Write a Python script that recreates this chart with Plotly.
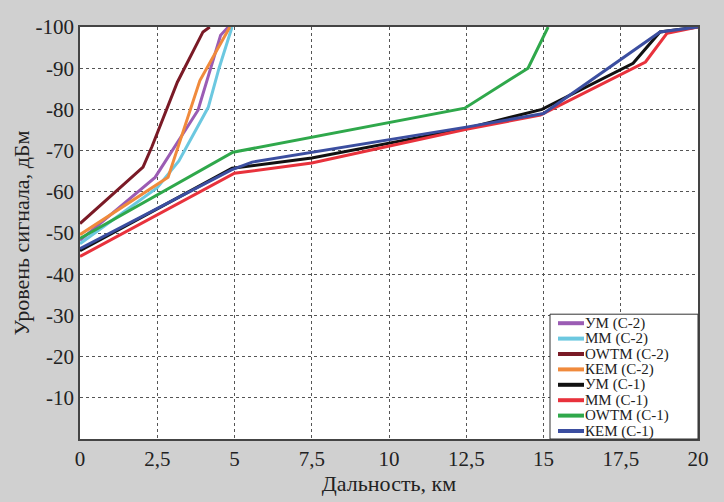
import plotly.graph_objects as go

# Series: distance (km) and signal level (dBm)
um_c2_x = [0, 2.43, 3.82, 4.55, 4.8]
um_c2_y = [-48.2, -63.5, -79.8, -98, -100]

mm_c2_x = [0, 2.5, 3.2, 4.15, 4.5, 4.92]
mm_c2_y = [-47.4, -61, -67.5, -80.5, -90, -100]

owtm_c2_x = [0, 2.04, 2.33, 3.15, 3.98, 4.2]
owtm_c2_y = [-52.3, -66, -71, -86.6, -98.8, -100]

kem_c2_x = [0, 2.85, 3.88, 4.85]
kem_c2_y = [-49.6, -63.5, -87, -100]

um_c1_x = [0, 4.92, 7.5, 12.5, 14.95, 17.9, 18.77, 20]
um_c1_y = [-45.7, -65.7, -68.2, -75.4, -80, -91.2, -98.8, -100]

mm_c1_x = [0, 5.0, 7.5, 12.5, 14.9, 18.3, 19.0, 20]
mm_c1_y = [-44.3, -64.5, -67, -75.2, -78.6, -91.5, -98.5, -100]

owtm_c1_x = [0, 4.95, 12.45, 14.5, 15.15]
owtm_c1_y = [-48.7, -69.6, -80.3, -90, -100]

kem_c1_x = [0, 4.9, 5.57, 12.5, 15.0, 18.77, 20]
kem_c1_y = [-46.2, -65.3, -67.2, -75.7, -79, -98.8, -100]

names = ["УМ (С-2)", "ММ (С-2)", "OWTM (С-2)", "КЕМ (С-2)",
         "УМ (С-1)", "ММ (С-1)", "OWTM (С-1)", "КЕМ (С-1)"]
xs = [um_c2_x, mm_c2_x, owtm_c2_x, kem_c2_x, um_c1_x, mm_c1_x, owtm_c1_x, kem_c1_x]
ys = [um_c2_y, mm_c2_y, owtm_c2_y, kem_c2_y, um_c1_y, mm_c1_y, owtm_c1_y, kem_c1_y]
colors = ["#9b5cb4", "#6cc8e0", "#7a1a26", "#f08a3c",
          "#111111", "#e8323c", "#2fa84b", "#3b4ea0"]

x_tickvals = [0, 2.5, 5, 7.5, 10, 12.5, 15, 17.5, 20]
x_ticktext = ["0", "2,5", "5", "7,5", "10", "12,5", "15", "17,5", "20"]
y_tickvals = [-10, -20, -30, -40, -50, -60, -70, -80, -90, -100]
y_ticktext = [str(v) for v in y_tickvals]

# layout geometry (pixels)
W, H = 724, 502
ML, MR, MT, MB = 80, 26, 27, 63
PW, PH = W - ML - MR, H - MT - MB
BG = "#d0d0d0"

def px_x(px):
    return (px - ML) / PW

def px_y(py):
    return (H - MB - py) / PH

fig = go.Figure()
for i in range(8):
    fig.add_trace(go.Scatter(
        x=xs[i], y=ys[i], mode="lines", name=names[i],
        line=dict(color=colors[i], width=3),
        showlegend=False,
    ))

font_family = "Liberation Serif, Times New Roman, serif"

# compact legend (box, line samples, labels)
step = 15.4
row0 = H - MB - 8 - 7 * step
box_top = row0 - 9
shapes = [dict(type="rect", xref="paper", yref="paper",
               x0=px_x(550), x1=1.0, y0=0.0, y1=px_y(box_top),
               fillcolor="#ffffff", line=dict(color="#333333", width=1), layer="above")]
annotations = []
for i in range(8):
    cy = row0 + i * step
    shapes.append(dict(type="line", xref="paper", yref="paper",
                       x0=px_x(558), x1=px_x(584), y0=px_y(cy), y1=px_y(cy),
                       line=dict(color=colors[i], width=4), layer="above"))
    annotations.append(dict(xref="paper", yref="paper", x=px_x(584), y=px_y(cy),
                            xanchor="left", yanchor="middle", showarrow=False,
                            text=names[i], borderpad=0,
                            font=dict(family=font_family, size=15, color="#222222")))

fig.update_layout(
    width=W, height=H,
    margin=dict(l=ML, r=MR, t=MT, b=MB, autoexpand=False),
    paper_bgcolor=BG,
    plot_bgcolor="#ffffff",
    font=dict(family=font_family, size=21, color="#222222"),
    showlegend=False,
    shapes=shapes,
    annotations=annotations,
    xaxis=dict(
        range=[0, 20], tickvals=x_tickvals, ticktext=x_ticktext,
        showgrid=True, gridcolor="#555555", griddash="dot", gridwidth=1,
        showline=True, linecolor="#444444", linewidth=1.5, mirror=True,
        zeroline=False, ticks="", automargin=False,
        title=dict(text="Дальность, км", font=dict(size=22), standoff=4),
        tickfont=dict(size=21),
    ),
    yaxis=dict(
        range=[0, -100], tickvals=y_tickvals, ticktext=y_ticktext,
        showgrid=True, gridcolor="#555555", griddash="dot", gridwidth=1,
        showline=True, linecolor="#444444", linewidth=1.5, mirror=True,
        zeroline=False, ticks="", automargin=False,
        title=dict(text="Уровень сигнала, дБм", font=dict(size=22), standoff=0),
        tickfont=dict(size=21),
    ),
)

fig.write_html(
    "out.html",
    config={"displayModeBar": False},
    post_script="document.body.style.margin='0';document.body.style.background='%s';" % BG,
)
